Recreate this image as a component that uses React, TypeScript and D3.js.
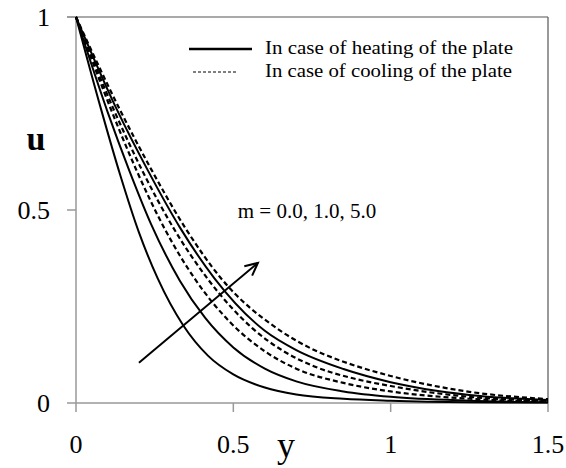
import React from 'react';
import * as d3 from 'd3';

// velocity profiles u(y)
const heatM0: [number, number][] = [[0, 1], [0.08, 0.76], [0.14, 0.592], [0.2, 0.442], [0.26, 0.322], [0.34, 0.202], [0.42, 0.122], [0.5, 0.074], [0.6, 0.04], [0.7, 0.022], [0.85, 0.011], [1.0, 0.006], [1.25, 0.002], [1.5, 0.001]];
const heatM1: [number, number][] = [[0, 1], [0.1, 0.755], [0.17, 0.601], [0.24, 0.461], [0.33, 0.317], [0.41, 0.221], [0.5, 0.144], [0.6, 0.089], [0.7, 0.056], [0.85, 0.03], [1.0, 0.016], [1.25, 0.006], [1.5, 0.002]];
const heatM5: [number, number][] = [[0, 1], [0.13, 0.76], [0.23, 0.6], [0.33, 0.455], [0.44, 0.323], [0.6, 0.187], [0.7, 0.137], [0.85, 0.088], [1.0, 0.054], [1.25, 0.021], [1.5, 0.008]];
const coolM0: [number, number][] = [[0, 1], [0.11, 0.763], [0.19, 0.607], [0.28, 0.454], [0.38, 0.319], [0.49, 0.209], [0.6, 0.134], [0.7, 0.089], [0.85, 0.052], [1.0, 0.03], [1.25, 0.011], [1.5, 0.004]];
const coolM1: [number, number][] = [[0, 1], [0.12, 0.76], [0.21, 0.603], [0.31, 0.453], [0.42, 0.32], [0.56, 0.194], [0.66, 0.134], [0.76, 0.094], [0.88, 0.064], [1.0, 0.044], [1.25, 0.016], [1.5, 0.006]];
const coolM5: [number, number][] = [[0, 1], [0.14, 0.759], [0.24, 0.604], [0.35, 0.45], [0.46, 0.324], [0.65, 0.187], [0.75, 0.14], [0.85, 0.107], [1.0, 0.07], [1.25, 0.029], [1.5, 0.01]];

const heating = [heatM0, heatM1, heatM5];
const cooling = [coolM0, coolM1, coolM5];

const xTicks = [0, 0.5, 1, 1.5];
const yTicks = [0, 0.5, 1];
const arrowFrom: [number, number] = [0.2, 0.104];
const arrowTo: [number, number] = [0.578, 0.363];

const W = 566, H = 468;
const m = {left: 76, right: 18, top: 17, bottom: 65};
const serif = '"Liberation Serif", "Times New Roman", Times, serif';

export default function App() {
  const x = d3.scaleLinear().domain([0, 1.5]).range([m.left, W - m.right]);
  const y = d3.scaleLinear().domain([0, 1]).range([H - m.bottom, m.top]);
  const line = d3.line<[number, number]>()
    .x(d => x(d[0]))
    .y(d => y(d[1]))
    .curve(d3.curveMonotoneX);

  const x0 = x(0), x1 = x(1.5), y0 = y(0), y1 = y(1);

  // arrowhead
  const ax = x(arrowTo[0]), ay = y(arrowTo[1]);
  const ang = Math.atan2(ay - y(arrowFrom[1]), ax - x(arrowFrom[0]));
  const hl = 14, spread = 0.45;
  const head = `M${ax - hl * Math.cos(ang - spread)},${ay - hl * Math.sin(ang - spread)} L${ax},${ay} L${ax - hl * Math.cos(ang + spread)},${ay - hl * Math.sin(ang + spread)}`;

  return (
    <div style={{position: 'absolute', left: 0, top: 0}}>
      <svg width={W} height={H} style={{display: 'block', background: '#fff', fontFamily: serif}}>
        {/* frame */}
        <line x1={x0 - 9} x2={x1} y1={y1} y2={y1} stroke="#555" strokeWidth={1.2} />
        <line x1={x1} x2={x1} y1={y1} y2={y0} stroke="#555" strokeWidth={1.2} />
        <line x1={x0} x2={x0} y1={y1} y2={y0} stroke="#999" strokeWidth={1.5} />
        <line x1={x0} x2={x1} y1={y0} y2={y0} stroke="#999" strokeWidth={1.5} />

        {yTicks.map(t => (
          <g key={'y' + t}>
            <line x1={x0 - 9} x2={x0} y1={y(t)} y2={y(t)} stroke="#999" strokeWidth={1.5} />
            <text x={50} y={y(t) + 9} textAnchor="end" fontSize={26}>{t}</text>
          </g>
        ))}
        {xTicks.map(t => (
          <g key={'x' + t}>
            <line x1={x(t)} x2={x(t)} y1={y0} y2={y0 + 9} stroke="#999" strokeWidth={1.5} />
            <text x={x(t)} y={453} textAnchor="middle" fontSize={26}>{t}</text>
          </g>
        ))}

        <text x={36} y={150} textAnchor="middle" fontSize={34} fontWeight="bold">u</text>
        <text x={286} y={457} textAnchor="middle" fontSize={36}>y</text>

        {heating.map((d, i) => (
          <path key={'h' + i} d={line(d) || ''} fill="none" stroke="#000" strokeWidth={2} />
        ))}
        {cooling.map((d, i) => (
          <path key={'c' + i} d={line(d) || ''} fill="none" stroke="#000" strokeWidth={2.2} strokeDasharray="5,3" />
        ))}

        {/* arrow */}
        <line x1={x(arrowFrom[0])} y1={y(arrowFrom[1])} x2={ax} y2={ay} stroke="#000" strokeWidth={2} />
        <path d={head} fill="none" stroke="#000" strokeWidth={2} />
        <text x={x(0.514)} y={y(0.479)} fontSize={21}>m = 0.0, 1.0, 5.0</text>

        {/* legend */}
        <line x1={189} x2={252} y1={49} y2={49} stroke="#000" strokeWidth={2.5} />
        <text x={265} y={54} fontSize={19} textLength={248} lengthAdjust="spacingAndGlyphs">In case of heating of the plate</text>
        <line x1={193} x2={237} y1={72} y2={72} stroke="#000" strokeWidth={1} strokeDasharray="3,2" />
        <text x={265} y={77} fontSize={19} textLength={247} lengthAdjust="spacingAndGlyphs">In case of cooling of the plate</text>
      </svg>
    </div>
  );
}
